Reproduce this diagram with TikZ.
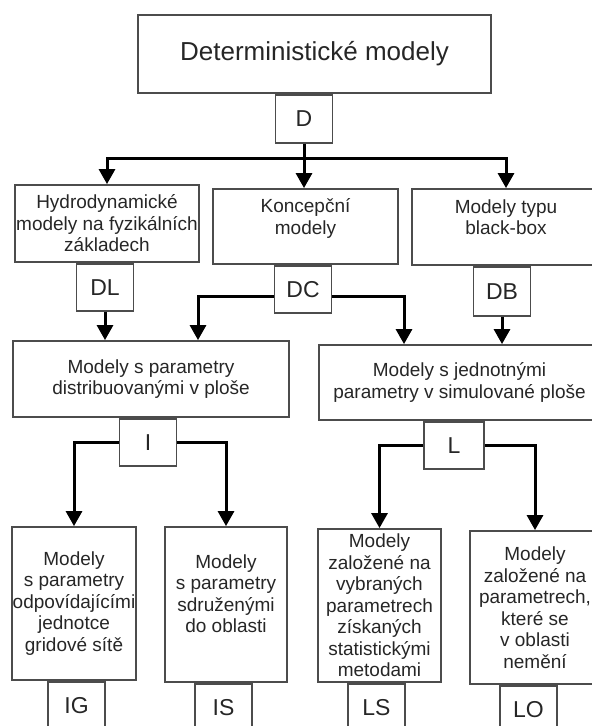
\documentclass[tikz,border=0pt]{standalone}
\usepackage{fontspec}
\setmainfont{Liberation Sans}
\usetikzlibrary{positioning,arrows.meta}

\begin{document}
\begin{tikzpicture}[x=0.5pt,y=-0.5pt,
        box/.style={draw=black!70,line width=0.9pt,inner sep=0pt,align=center,text=black!85,
          font=\fontsize{9.5pt}{10.75pt}\selectfont},
        kod/.style={box,minimum width=28.5pt,minimum height=23.5pt,font=\fontsize{11.5pt}{13pt}\selectfont},
        arr/.style={line width=1.5pt,-{Triangle[width=8pt,length=7.5pt]}}]
        \useasboundingbox (0,0) rectangle (592,726);
        \clip (0,0) rectangle (592,726);
        \node[box,minimum width=176.5pt,minimum height=39pt,font=\fontsize{13pt}{15pt}\selectfont] (top) at (314.5,54) {Deterministické modely};
        \node[kod,below=0pt of top,xshift=-5.25pt,minimum height=24pt] (D) {D};
        \node[box,minimum width=92pt,minimum height=38.5pt] (hydro) at (107,223.5) {Hydrodynamické\\modely na fyzikálních\\základech};
        \node[box,minimum width=92.5pt,minimum height=37.5pt] (konc) at (305.5,226.5) {Koncepční\\modely\\[-1pt]\mbox{}};
        \node[box,minimum width=94pt,minimum height=38pt] (bbox) at (506,227) {Modely typu\\black-box\\[-1pt]\mbox{}};
        \node[kod,below=0pt of hydro,xshift=-1pt] (DL) {DL};
        \node[kod,below=0pt of konc,xshift=-1.25pt] (DC) {DC};
        \node[kod,below=0pt of bbox,xshift=-2pt,minimum height=24.5pt] (DB) {DB};
        \node[box,minimum width=138pt,minimum height=38pt] (distr) at (151,379) {Modely s parametry\\distribuovanými v ploše};
        \node[box,minimum width=140.5pt,minimum height=37.5pt] (jedn) at (459.5,382.5) {Modely s jednotnými\\parametry v simulované ploše};
        \node[kod,below=0pt of distr,xshift=-1.5pt] (I) {I};
        \node[kod,below=0pt of jedn,xshift=-2.75pt,minimum width=30pt] (L) {L};
        \node[box,minimum width=62pt,minimum height=76.5pt] (grid) at (74,603.5) {Modely\\s parametry\\odpovídajícími\\jednotce\\gridové sítě};
        \node[box,minimum width=61pt,minimum height=77.5pt] (sdruz) at (226,604.5) {Modely\\s parametry\\sdruženými\\do oblasti\\~};
        \node[box,minimum width=61.5pt,minimum height=76.5pt] (stat) at (379.5,605.5) {Modely\\založené na\\vybraných\\parametrech\\získaných\\statistickými\\metodami};
        \node[box,minimum width=65pt,minimum height=76.5pt] (obl) at (535,607.5) {Modely\\založené na\\parametrech,\\které se\\v oblasti\\nemění};
        \node[kod,below=0pt of grid,xshift=1.25pt,minimum height=24pt] (IG) {IG};
        \node[kod,below=0pt of sdruz,xshift=-1.25pt,minimum height=24pt] (IS) {IS};
        \node[kod,below=0pt of stat,xshift=-1.5pt,minimum height=24pt] (LS) {LS};
        \node[kod,below=0pt of obl,xshift=-3.25pt,minimum height=24pt] (LO) {LO};
        \coordinate (Dsplit) at ([yshift=-7.5pt]D.south);
        \draw[arr] (D.south) -- (D.south |- konc.north);
        \draw[arr] (Dsplit) -| (hydro.north);
        \draw[arr] (Dsplit) -| (bbox.north);
        \draw[arr] (DL.south) -- (DL.south |- distr.north);
        \draw[arr] ([yshift=-3.75pt]DC.west) -| ([xshift=23.5pt]distr.north);
        \draw[arr] ([yshift=-3.75pt]DC.east) -| ([xshift=-27.75pt]jedn.north);
        \draw[arr] (DB.south) -- (DB.south |- jedn.north);
        \draw[arr] (I.west) -| (grid.north);
        \draw[arr] (I.east) -| (sdruz.north);
        \draw[arr] (L.west) -| (stat.north);
        \draw[arr] (L.east) -| (obl.north);
      \end{tikzpicture}
\end{document}
